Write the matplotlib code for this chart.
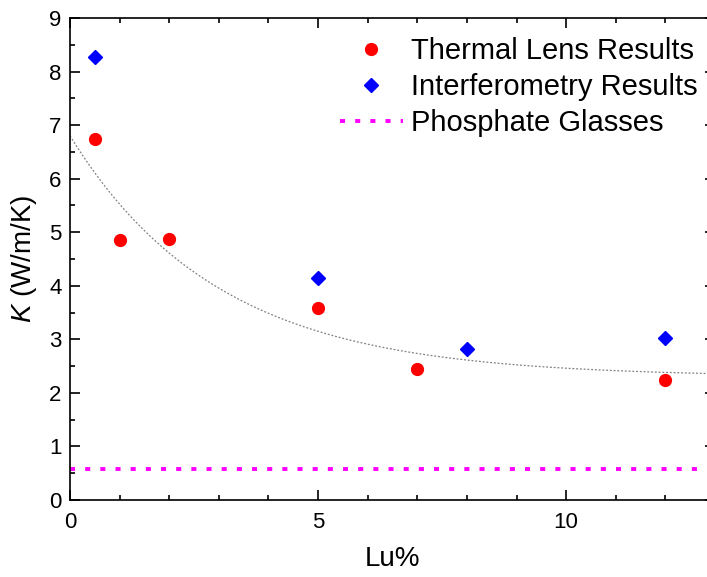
import matplotlib
matplotlib.use("Agg")
import matplotlib.pyplot as plt
import numpy as np

plt.rcParams['font.family'] = ['Liberation Sans', 'DejaVu Sans']
plt.rcParams['mathtext.fontset'] = 'custom'
plt.rcParams['mathtext.rm'] = 'Liberation Sans'
plt.rcParams['mathtext.it'] = 'Liberation Sans:italic'

# Thermal lens results
tl_lu = [0.5, 1, 2, 5, 7, 12]
tl_k = [6.75, 4.85, 4.87, 3.58, 2.45, 2.24]

# Interferometry results
if_lu = [0.5, 5, 8, 12]
if_k = [8.27, 4.15, 2.82, 3.03]

# Phosphate glasses reference level
phosphate_k = 0.57

# Exponential decay fit: y0 + A*exp(-x/t)
fit_y0, fit_a, fit_t = 2.3, 4.5, 3.0

fig = plt.figure(figsize=(7.07, 5.77), dpi=100)
ax = fig.add_axes([70 / 707, 77 / 577, 645 / 707, 482 / 577])

xs = np.linspace(0, 13, 300)
ax.plot(xs, fit_y0 + fit_a * np.exp(-xs / fit_t), color='gray', lw=0.9, ls=(0, (1.5, 1.5)), zorder=1)

ax.plot(tl_lu, tl_k, 'o', color='red', ms=8.5, ls='none', label='Thermal Lens Results', zorder=3)
ax.plot(if_lu, if_k, 'D', color='blue', ms=7, ls='none', label='Interferometry Results', zorder=3)
ax.axhline(phosphate_k, color='magenta', lw=2.8, dashes=(1.3, 2.6), dash_capstyle='butt',
           label='Phosphate Glasses', zorder=2)

ax.set_xlim(0, 13)
ax.set_ylim(0, 9)
ax.set_xticks([0, 5, 10])
ax.set_xticks(np.arange(0, 14, 1), minor=True)
ax.set_yticks(np.arange(0, 10, 1))
ax.set_yticks(np.arange(0.5, 9, 1), minor=True)

for s in ax.spines.values():
    s.set_linewidth(1.2)
ax.tick_params(which='both', direction='in', top=True, right=True, width=1.2, labelsize=16)
ax.tick_params(which='major', length=7)
ax.tick_params(which='minor', length=3.5)
ax.tick_params(axis='x', pad=9)
ax.tick_params(axis='y', pad=6)

ax.set_xlabel('Lu%', fontsize=20, labelpad=9)
ax.set_ylabel(r'$K$ (W/m/K)', fontsize=20, labelpad=7)

ax.legend(loc='upper right', bbox_to_anchor=(1.003, 1.0), frameon=False, fontsize=21,
          handlelength=2.15, handletextpad=0.3, labelspacing=0.28, borderaxespad=0.25)

fig.savefig('out.png', dpi=100)
